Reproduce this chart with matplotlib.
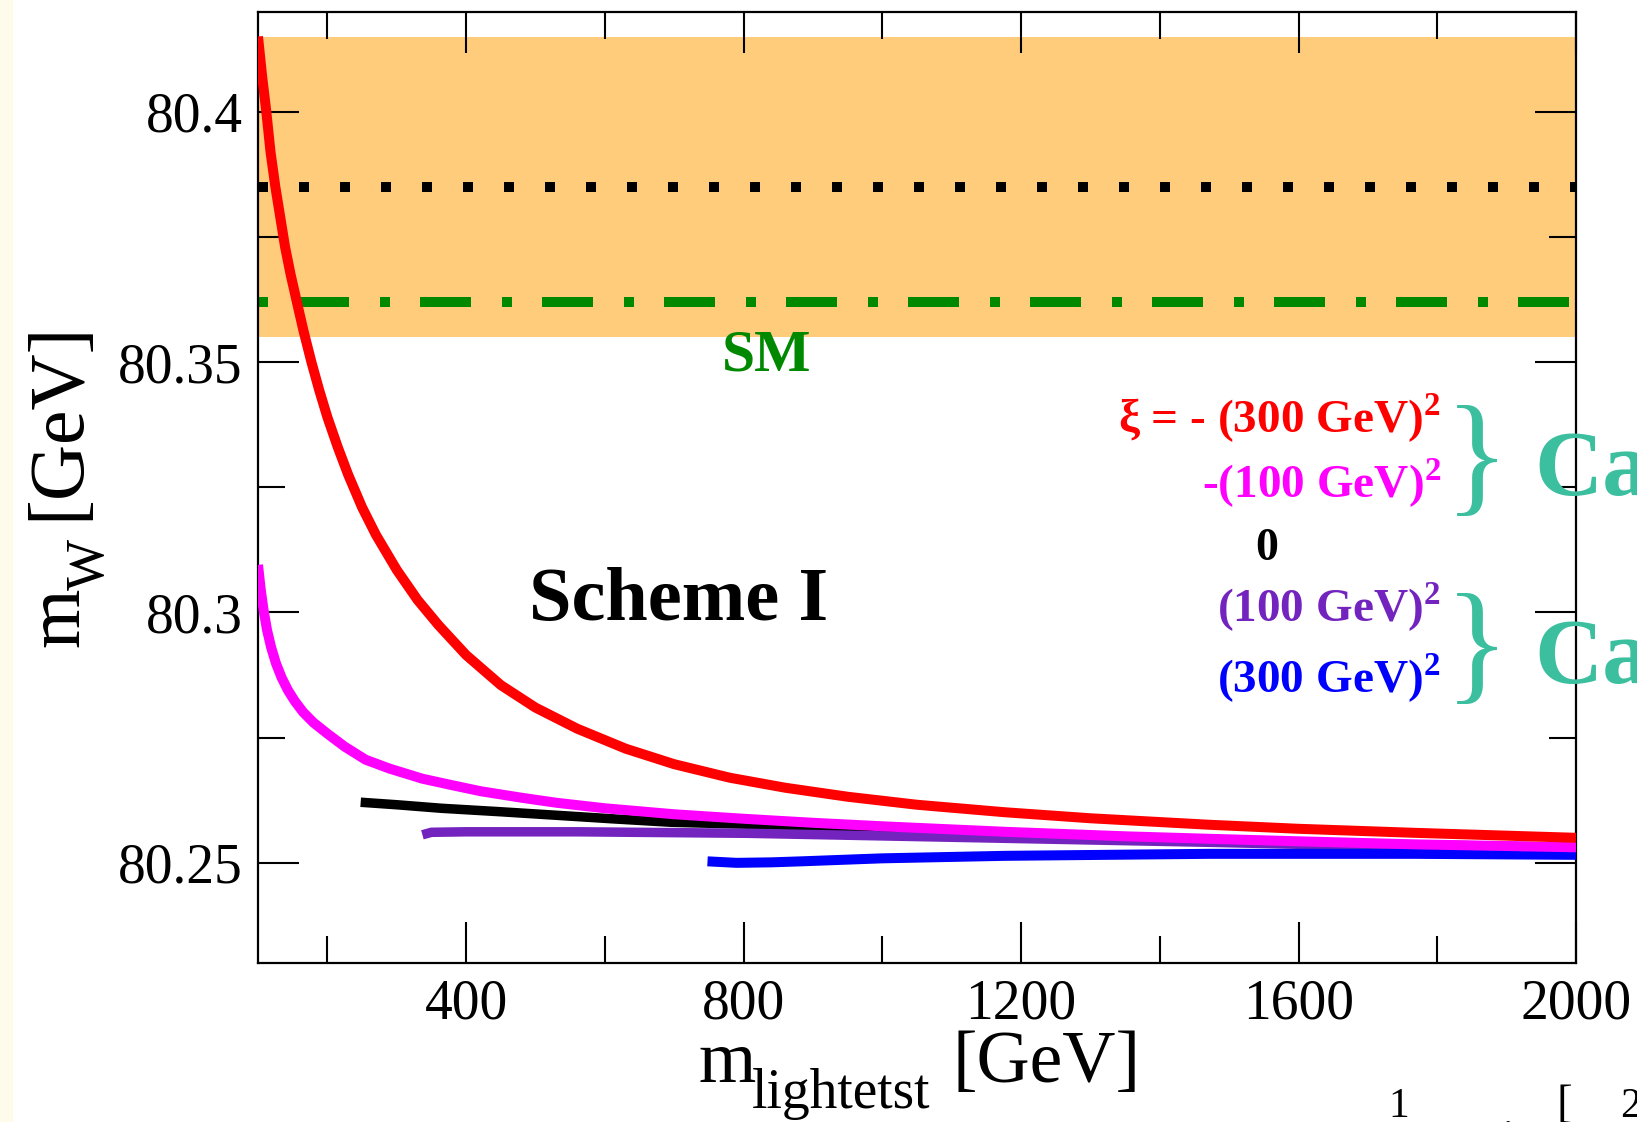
import matplotlib
matplotlib.use("Agg")
import matplotlib.pyplot as plt
from matplotlib.patches import Rectangle

plt.rcParams['font.family'] = ['Liberation Serif', 'DejaVu Serif']
plt.rcParams['mathtext.fontset'] = 'custom'
plt.rcParams['mathtext.rm'] = 'Liberation Serif'
plt.rcParams['mathtext.bf'] = 'Liberation Serif:bold'

# m_W vs lightest mass, one curve per xi value
red_x = [100, 106, 112, 118, 125, 132, 139, 147, 156, 166, 177, 188, 200, 215, 230, 250, 270, 300, 330, 360,
         400, 450, 500, 560, 630, 700, 780, 860, 950, 1050, 1177, 1300, 1472, 1600, 1766, 2000]
red_y = [80.415, 80.407, 80.400, 80.392, 80.385, 80.379, 80.373, 80.3675, 80.362, 80.356, 80.350, 80.3445,
         80.339, 80.333, 80.3275, 80.321, 80.3155, 80.3085, 80.3025, 80.2975, 80.2915, 80.2855, 80.2810,
         80.2768, 80.2728, 80.2697, 80.2670, 80.2650, 80.2632, 80.2616, 80.2601, 80.2589, 80.2576,
         80.2568, 80.2560, 80.2550]

mag_x = [100, 104, 108, 113, 119, 126, 134, 143, 153, 165, 180, 200, 225, 255, 290, 337, 380, 421, 480, 530,
         600, 700, 800, 900, 1000, 1177, 1350, 1472, 1600, 1766, 2000]
mag_y = [80.3095, 80.3045, 80.3005, 80.2965, 80.2930, 80.2898, 80.2870, 80.2845, 80.2823, 80.2801, 80.2780,
         80.2758, 80.2732, 80.2706, 80.2688, 80.2668, 80.2655, 80.2643, 80.2630, 80.2620, 80.2609, 80.2597,
         80.2588, 80.2580, 80.2573, 80.2562, 80.2553, 80.2548, 80.2543, 80.2537, 80.2531]

blk_x = [248, 300, 364, 450, 530, 610, 696, 780, 862, 1000, 1177, 1472, 1766, 2000]
blk_y = [80.2621, 80.2616, 80.2609, 80.2602, 80.2595, 80.2588, 80.2581, 80.2578, 80.2575, 80.2566, 80.2557,
         80.2546, 80.2536, 80.2531]

pur_x = [337, 350, 400, 475, 560, 642, 806, 955, 1177, 1472, 1766, 2000]
pur_y = [80.2556, 80.2561, 80.2562, 80.2562, 80.2562, 80.2561, 80.2559, 80.2555, 80.2549, 80.2541, 80.2532,
         80.2529]

blu_x = [748, 790, 840, 883, 1000, 1177, 1472, 1766, 2000]
blu_y = [80.2503, 80.2500, 80.2501, 80.2503, 80.2509, 80.2514, 80.2518, 80.2518, 80.2516]

# experimental band and reference lines
band_x = [100, 2000]
band_lo = 80.355
band_hi = 80.415
exp_val = 80.385
sm_val = 80.362

xi_labels = [r'ξ = - (300 GeV)$^{\mathbf{2}}$', r'-(100 GeV)$^{\mathbf{2}}$', '0',
             r'(100 GeV)$^{\mathbf{2}}$', r'(300 GeV)$^{\mathbf{2}}$']
xi_colors = ['#ff0000', '#ff00ff', '#000000', '#7323be', '#0000ff']

yticks = [80.25, 80.30, 80.35, 80.40]
yticklabels = ['80.25', '80.3', '80.35', '80.4']
xticks = [400, 800, 1200, 1600, 2000]

W, H = 1637, 1122
fig = plt.figure(figsize=(W / 100, H / 100), dpi=100)
fig.patches.append(Rectangle((0, 0), 12 / W, 1, transform=fig.transFigure, color='#fffbea', zorder=0))
ax = fig.add_axes([258 / W, 1 - 963 / H, (1576 - 258) / W, (963 - 11.5) / H])

ax.fill_between(band_x, band_lo, band_hi, color='#ffcc7c', lw=0, zorder=1)
ax.plot(band_x, [exp_val, exp_val], color='k', lw=7.2, ls=(0, (1, 3.1)), dash_capstyle='butt', zorder=2)
ax.plot(band_x, [sm_val, sm_val], color='#008800', lw=7.2, ls=(0, (1, 3.0, 5.1, 3.1)), dash_capstyle='butt', zorder=2)

lw = 7.2
ax.plot(blk_x, blk_y, color=xi_colors[2], lw=lw * 0.95, solid_capstyle='butt', zorder=3)
ax.plot(pur_x, pur_y, color=xi_colors[3], lw=lw * 0.95, solid_capstyle='butt', zorder=4)
ax.plot(blu_x, blu_y, color=xi_colors[4], lw=lw, solid_capstyle='butt', zorder=5)
ax.plot(mag_x, mag_y, color=xi_colors[1], lw=lw, solid_capstyle='butt', zorder=6)
ax.plot(red_x, red_y, color=xi_colors[0], lw=lw, solid_capstyle='butt', zorder=7)

ax.set_xlim(100, 2000)
ax.set_ylim(80.23, 80.42)
ax.set_xticks(xticks)
ax.set_xticks([200, 600, 1000, 1400, 1800], minor=True)
ax.set_yticks(yticks)
ax.set_yticklabels(yticklabels)
ax.set_yticks([80.275, 80.325, 80.375], minor=True)
ax.tick_params(which='both', direction='in', top=True, right=True, width=1.5)
ax.tick_params(which='major', length=29.5, labelsize=40, pad=11)
ax.tick_params(which='minor', length=19.5)
for s in ax.spines.values():
    s.set_linewidth(1.6)

# y label, built from pieces so the subscript sits like the original
ykw = dict(rotation=90, rotation_mode='anchor', ha='left', va='baseline')
fig.text(78 / W, 1 - 647 / H, 'm', fontsize=55, **ykw)
fig.text(104 / W, 1 - 590 / H, 'W', fontsize=39, **ykw)
fig.text(78 / W, 1 - 520 / H, '[GeV]', fontsize=56, **ykw)

# x label
fig.text(698 / W, 1 - 1082 / H, 'm', fontsize=53, ha='left', va='baseline')
fig.text(752 / W, 1 - 1108 / H, 'lightetst', fontsize=40, ha='left', va='baseline')
fig.text(952 / W, 1 - 1082 / H, '[GeV]', fontsize=53, ha='left', va='baseline')

fig.text(767 / W, 1 - 370 / H, 'SM', color='#008800', fontsize=43, fontweight='bold', ha='center', va='baseline')
fig.text(529 / W, 1 - 620 / H, 'Scheme I', color='k', fontsize=55, fontweight='bold', ha='left', va='baseline')

# xi legend on the right
baselines = [433, 498, 560, 622, 693]
for i, (lab, col) in enumerate(zip(xi_labels, xi_colors)):
    if lab == '0':
        fig.text(1267 / W, 1 - baselines[i] / H, lab, color=col, fontsize=33, fontweight='bold', ha='center', va='baseline')
    else:
        fig.text(1441 / W, 1 - baselines[i] / H, lab, color=col, fontsize=34, fontweight='bold', ha='right', va='baseline')

teal = '#3bbf9f'
for yc, yb in [(465, 495), (653, 683)]:
    fig.text(1477 / W, 1 - yc / H, '}', color=teal, fontsize=96, ha='center', va='center')
    fig.text(1534 / W, 1 - yb / H, 'Ca', color=teal, fontsize=68, fontweight='bold', ha='left', va='baseline')

# pieces of text cut off at the bottom right
fig.text(1388 / W, 5 / H, '1', fontsize=30, ha='left', va='baseline')
fig.text(1502 / W, -4 / H, '.', fontsize=30, ha='left', va='baseline')
fig.text(1557 / W, 5 / H, '[', fontsize=34, ha='left', va='baseline')
fig.text(1620 / W, 5 / H, '2', fontsize=30, ha='left', va='baseline')

fig.savefig('out.png', dpi=100)
